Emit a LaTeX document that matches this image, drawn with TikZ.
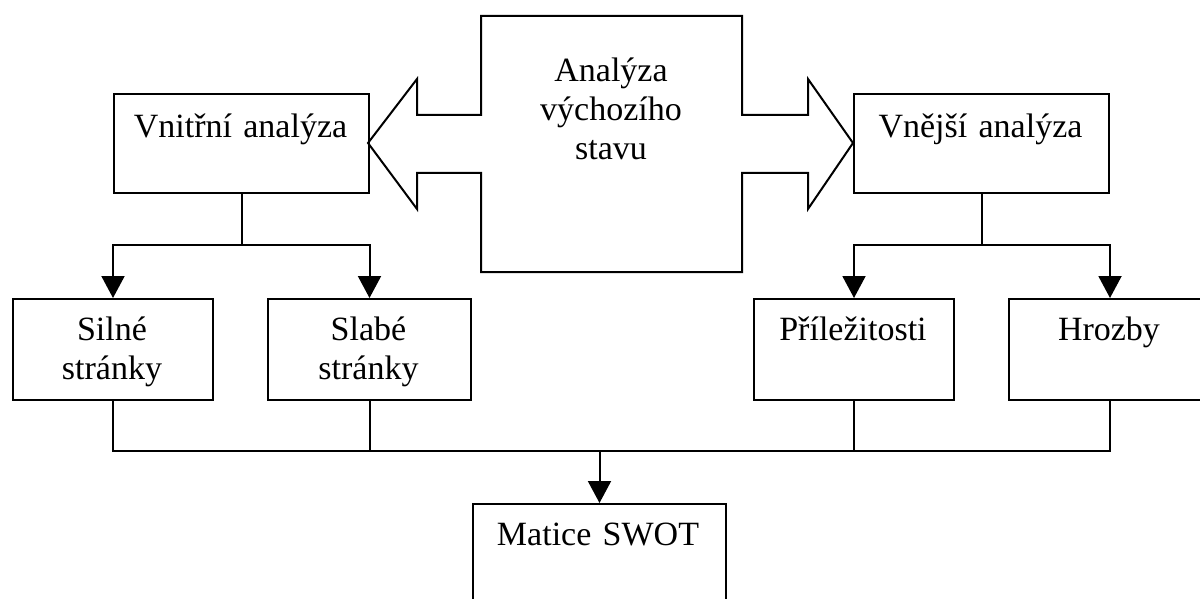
\documentclass[tikz,border=0pt]{standalone}
\usepackage{fontspec}
\setmainfont{Liberation Serif}
\usetikzlibrary{arrows.meta}
\begin{document}
\begin{tikzpicture}[x=0.5pt,y=-0.5pt,
  box/.style={draw, line width=1pt, rectangle, inner sep=0pt, anchor=north west},
  lbl/.style={anchor=base, inner sep=0pt, text width=130pt, align=center,
              font=\fontsize{17pt}{19.5pt}\selectfont},
  wire/.style={line width=1pt},
  arr/.style={wire, -{Triangle[length=11pt,width=11.5pt]}}]
\useasboundingbox (0,0) rectangle (1200,599);
\clip (0,0) rectangle (1200,599);

% central double-headed block arrow
\draw[line width=1pt, line join=miter]
  (481,16) -- (742,16) -- (742,115) -- (808,115) -- (808,79) -- (853,143)
  -- (808,209) -- (808,173) -- (742,173) -- (742,272) -- (481,272)
  -- (481,173) -- (417,173) -- (417,209) -- (368,143) -- (417,79)
  -- (417,115) -- (481,115) -- cycle;
\node[lbl] (vychozi) at (611,82) {Analýza\\ výchozího\\ stavu};

% first level boxes
\node[box, minimum width=127.5pt, minimum height=49.5pt] (vnitrni) at (113,93) {};
\node[lbl] (vnitrni-t) at (240.5,138) {Vnitřní analýza};
\node[box, minimum width=127.5pt, minimum height=49.5pt] (vnejsi) at (853,93) {};
\node[lbl] (vnejsi-t) at (980.5,138) {Vnější analýza};

% second level boxes
\node[box, minimum width=100pt, minimum height=50.5pt] (silne) at (12,298) {};
\node[lbl] (silne-t) at (112,340) {Silné\\ stránky};
\node[box, minimum width=101.5pt, minimum height=50.5pt] (slabe) at (267,298) {};
\node[lbl] (slabe-t) at (368.5,340) {Slabé\\ stránky};
\node[box, minimum width=100pt, minimum height=50.5pt] (prilez) at (753,298) {};
\node[lbl] (prilez-t) at (853,340) {Příležitosti};
\node[box, minimum width=101pt, minimum height=50.5pt] (hrozby) at (1008,298) {};
\node[lbl] (hrozby-t) at (1109,340) {Hrozby};

% result box
\node[box, minimum width=126.5pt, minimum height=73.5pt] (matice) at (472,503) {};
\node[lbl] (matice-t) at (598,545) {Matice SWOT};

% branching connectors
\coordinate (jl) at (vnitrni.south |- 0,245);
\coordinate (jr) at (vnejsi.south |- 0,245);
\coordinate (jb) at (matice.north |- 0,451);
\draw[wire] (vnitrni.south) -- (jl);
\draw[arr] (jl) -| (silne.north);
\draw[arr] (jl) -| (slabe.north);
\draw[wire] (vnejsi.south) -- (jr);
\draw[arr] (jr) -| (prilez.north);
\draw[arr] (jr) -| (hrozby.north);

% merging connectors
\draw[wire] (silne.south) |- (jb);
\draw[wire] (hrozby.south) |- (jb);
\draw[wire] (slabe.south) -- (slabe.south |- jb);
\draw[wire] (prilez.south) -- (prilez.south |- jb);
\draw[arr] (jb) -- (matice.north);
\end{tikzpicture}
\end{document}
